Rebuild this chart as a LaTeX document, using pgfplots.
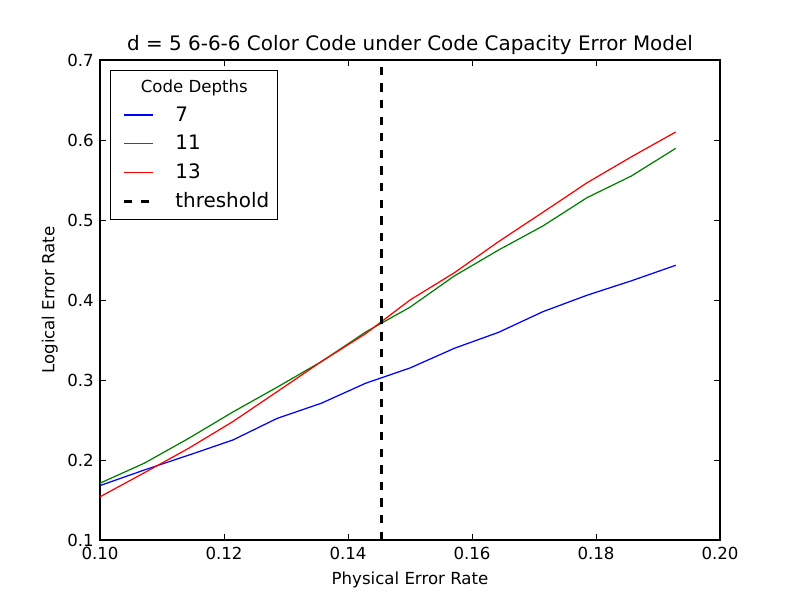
\documentclass[border=0pt]{standalone}
\usepackage{fontspec}
\setmainfont{DejaVu Sans}
\usepackage{pgfplots}
\pgfplotsset{compat=1.18}
\usetikzlibrary{calc}
\definecolor{mgreen}{rgb}{0,0.5,0}
\begin{document}
\begin{tikzpicture}
\begin{axis}[
  name=ax,
  at={(0,0)}, anchor=south west,
  scale only axis,
  width=6.2in, height=4.8in,
  xmin=0.10, xmax=0.20, ymin=0.1, ymax=0.7,
  xtick={0.10,0.12,0.14,0.16,0.18,0.20},
  ytick={0.1,0.2,0.3,0.4,0.5,0.6,0.7},
  /pgf/number format/assume math mode=true,
  xticklabel style={/pgf/number format/fixed, /pgf/number format/fixed zerofill, /pgf/number format/precision=2, yshift=-1.5pt},
  yticklabel style={/pgf/number format/fixed, /pgf/number format/fixed zerofill, /pgf/number format/precision=1, xshift=-1pt},
  tick label style={font=\fontsize{12}{14}\selectfont},
  tick align=inside,
  major tick length=4pt,
  minor tick num=0,
  axis line style={line width=0.8pt},
  tick style={black, line width=0.6pt},
  title={d = 5 6-6-6 Color Code under Code Capacity Error Model},
  title style={font=\fontsize{14.4}{17}\selectfont, yshift=-5.5pt},
  xlabel={Physical Error Rate},
  ylabel={Logical Error Rate},
  xlabel style={yshift=-2pt},
  label style={font=\fontsize{12}{14}\selectfont},
  legend cell align=left,
  legend style={at={(rel axis cs:0.016,0.979)}, anchor=north west, draw=black, line width=0.6pt,
    font=\fontsize{14.4}{17}\selectfont, row sep=4.6pt, column sep=13pt, inner xsep=9pt, inner ysep=5pt},
  legend image code/.code={\draw[#1] (0pt,0pt) -- (21pt,0pt);},
]
\addlegendimage{empty legend}
\addlegendentry{\hspace{-25pt}\fontsize{12}{14}\selectfont Code Depths}
\addplot[blue, line width=0.9pt] coordinates {
(0.10000,0.168) (0.10714,0.1875) (0.11429,0.206) (0.12143,0.225) (0.12857,0.252)
(0.13571,0.271) (0.14286,0.296) (0.15000,0.315) (0.15714,0.3396) (0.16429,0.3596)
(0.17143,0.3854) (0.17857,0.406) (0.18571,0.424) (0.19286,0.4434)};
\addlegendentry{7}
\addplot[mgreen, line width=0.9pt] coordinates {
(0.10000,0.171) (0.10714,0.196) (0.11429,0.227) (0.12143,0.260) (0.12857,0.291)
(0.13571,0.323) (0.14286,0.360) (0.15000,0.391) (0.15714,0.430) (0.16429,0.4625)
(0.17143,0.4925) (0.17857,0.528) (0.18571,0.555) (0.19286,0.5896)};
\addlegendentry{11}
\addplot[red, line width=0.9pt] coordinates {
(0.10000,0.154) (0.10714,0.184) (0.11429,0.2146) (0.12143,0.248) (0.12857,0.2854)
(0.13571,0.323) (0.14286,0.358) (0.15000,0.400) (0.15714,0.434) (0.16429,0.473)
(0.17143,0.5096) (0.17857,0.5466) (0.18571,0.579) (0.19286,0.610)};
\addlegendentry{13}
\addplot[black, line width=2pt, dash pattern=on 6pt off 6pt] coordinates {(0.1454,0.1) (0.1454,0.7)};
\addlegendentry{threshold\kern-5pt\relax}
\end{axis}
\pgfresetboundingbox
\useasboundingbox ($(ax.south west)+(-1in,-0.6in)$) rectangle ($(ax.north east)+(0.8in,0.6in)$);
\end{tikzpicture}
\end{document}
